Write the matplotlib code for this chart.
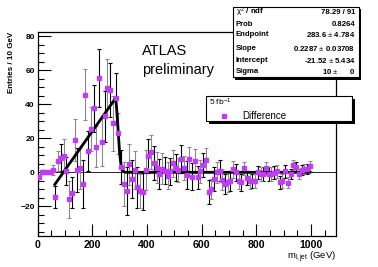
import numpy as np
import matplotlib
matplotlib.use('Agg')
import matplotlib.pyplot as plt
from matplotlib.patches import Rectangle
from matplotlib.lines import Line2D

plt.rcParams['font.family'] = ['Liberation Sans', 'DejaVu Sans']
plt.rcParams['mathtext.fontset'] = 'custom'
plt.rcParams['mathtext.rm'] = 'Liberation Sans'
plt.rcParams['mathtext.it'] = 'Liberation Sans'
plt.rcParams['mathtext.bf'] = 'Liberation Sans:bold'

# histogram "Difference", 10 GeV bins
bin_width = 10
bin_centers = np.arange(5, 1000, bin_width)
diff_values = [
    -3, 0, 0, 0, 0, 1.4, -14.3, 6.8, 8.6, 9.6,
    0.8, -16, -12, 19, 1.4, 2.3, -7, 45.5, 12.5, 25.6,
    37.6, 15, 55.7, 18, 33, 49.4, 48.4, 28.8, 43.5, 23,
    3, -7, -11, 4.7, -4, 1.4, -8.8, -11.2, -11.4, 1.4,
    9.6, 12, 5.7, 2.8, -1, 2.2, 1, -2, 0.5, 5.3,
    2.7, 1.4, 7.8, 2.7, -1.6, 7.8, -2.6, 6.6, -3, 0.5,
    4.3, 7.2, -11.4, -10, -4, 0, 1, -4.3, -6.9, -5.5,
    -5, 1.8, 0, -5.1, -5.9, 2.3, -3.5, -5.1, -5.1, -5,
    0, -1, -1, 2.3, -1, -1, -0.2, 0.5, -5.9, -5,
    0.5, -6, -1, 4.5, 3.3, -1, 1.5, 1.8, 2, 3.5,
]
diff_errors = [
    1, 0, 0, 0, 0, 3, 6.5, 6, 8, 10,
    8, 11, 9, 12.5, 13, 12, 14, 15, 12, 13,
    14, 12, 17, 14, 15, 17, 16, 16, 15, 12,
    10, 13, 14, 12, 11, 11, 12, 10, 11, 12,
    10, 10, 10, 9, 9, 9, 8, 8, 8, 8,
    8, 7, 8, 7, 8, 7, 8, 7, 7, 7,
    7, 7, 7, 6, 7, 6, 6, 6, 6, 6,
    6, 5, 5, 5, 5, 4, 4, 5, 4, 4,
    4, 4, 4, 4, 4, 4, 4, 4, 4, 4,
    4, 3, 3, 3, 3, 3, 3, 3, 3, 3,
]

# fit results (stats box)
fit_endpoint = 283.6
fit_slope = 0.2287
fit_intercept = -21.52
fit_sigma = 10
fit_range = (60, 1000)

stat_labels = ['$\\chi^2$ / ndf', 'Prob', 'Endpoint', 'Slope', 'Intercept', 'Sigma']
stat_values = ['78.29 / 91', '0.8264', '283.6 $\\pm$ 4.784', '0.2287 $\\pm$ 0.03708',
               '-21.52 $\\pm$ 5.434', '10 $\\pm$      0']

MAGENTA = '#c13cf5'

fig = plt.figure(figsize=(3.78, 2.67), dpi=100, facecolor='white')
ax = fig.add_axes([0.0995, 0.116, 0.7895, 0.765])

x = np.asarray(bin_centers)
y = np.asarray(diff_values)
e = np.asarray(diff_errors)

# error bars, alternating black / grey
for sel, col in [(slice(0, None, 2), 'black'), (slice(1, None, 2), '#8a8a8a')]:
    ax.errorbar(x[sel], y[sel], yerr=e[sel], fmt='none', ecolor=col,
                elinewidth=0.8, capsize=1.6, capthick=0.8, zorder=2)
ax.plot(x, y, 's', color=MAGENTA, ms=2.2, mec=MAGENTA, zorder=4)

# zero line
ax.axhline(0, color='black', lw=0.6, zorder=1)

# fit function: line up to endpoint, gaussian fall-off after it
xf = np.linspace(fit_range[0], fit_range[1], 2000)
peak = fit_slope * fit_endpoint + fit_intercept
yf = np.where(xf <= fit_endpoint, fit_slope * xf + fit_intercept,
              peak * np.exp(-(xf - fit_endpoint) ** 2 / (2 * fit_sigma ** 2)))
ax.plot(xf, yf, color='black', lw=2.0, zorder=3, solid_capstyle='butt')

ax.set_xlim(0, 1091)
ax.set_ylim(-37.5, 82.7)
ax.set_xticks([0, 200, 400, 600, 800, 1000])
ax.set_xticks(np.arange(0, 1091, 50), minor=True)
ax.set_yticks([-20, 0, 20, 40, 60, 80])
ax.set_yticks(np.arange(-35, 83, 5), minor=True)
ax.tick_params(which='both', direction='in', top=False, right=False)
ax.tick_params(which='major', length=9, width=0.8)
ax.tick_params(which='minor', length=4.5, width=0.8)
ax.tick_params(axis='x', labelsize=7.6, pad=2.8)
ax.tick_params(axis='y', labelsize=6, pad=2)
for lab in ax.get_xticklabels() + ax.get_yticklabels():
    lab.set_fontweight('bold')
for sp in ax.spines.values():
    sp.set_linewidth(0.9)

fig.text(12 / 378, 1 - 32 / 267, 'Entries / 10 GeV', rotation=90, ha='center',
         va='top', fontsize=5.8, fontweight='bold')
fig.text(336 / 378, 1 - 257 / 267, '$\\mathregular{m_{l,jet}}$ (GeV)', ha='right',
         va='center', fontsize=6.8)

ax.text(141.7 / 378, 1 - 51 / 267, 'ATLAS', transform=fig.transFigure,
        fontsize=10.5, va='center', ha='left')
ax.text(141.7 / 378, 1 - 70 / 267, 'preliminary', transform=fig.transFigure,
        fontsize=10.5, va='center', ha='left')


def fig_box(x0, y0, x1, y1, shadow):
    # pixel coords, top-down
    W, H = 378.0, 267.0
    fig.add_artist(Rectangle(((x0 + shadow) / W, 1 - (y1 + shadow) / H),
                             (x1 - x0) / W, (y1 - y0) / H, transform=fig.transFigure,
                             facecolor='black', edgecolor='black', lw=0, zorder=5))
    fig.add_artist(Rectangle((x0 / W, 1 - y1 / H), (x1 - x0) / W, (y1 - y0) / H,
                             transform=fig.transFigure, facecolor='white',
                             edgecolor='black', lw=0.8, zorder=6))


# stats box
fig_box(232.7, 7.3, 358.5, 77.5, 2)
row_y = [12.8, 24, 34.8, 48.8, 60.3, 71.5]
for lab, val, ry in zip(stat_labels, stat_values, row_y):
    fig.text(236 / 378, 1 - ry / 267, lab, fontsize=5.6, fontweight='bold',
             ha='left', va='center', zorder=7)
    fig.text(355.5 / 378, 1 - ry / 267, val, fontsize=5.6, fontweight='bold',
             ha='right', va='center', zorder=7)

# legend box
fig_box(206, 95.7, 352, 121, 3)
fig.text(209 / 378, 1 - 102 / 267, '5 fb$^{-1}$', fontsize=6, ha='left',
         va='center', zorder=7)
fig.add_artist(Line2D([224 / 378], [1 - 116 / 267], marker='s', ms=2.2,
                      color=MAGENTA, ls='none', transform=fig.transFigure, zorder=7))
fig.text(242.7 / 378, 1 - 116 / 267, 'Difference', fontsize=7, ha='left',
         va='center', zorder=7)

fig.savefig('out.png', dpi=100, facecolor='white')
